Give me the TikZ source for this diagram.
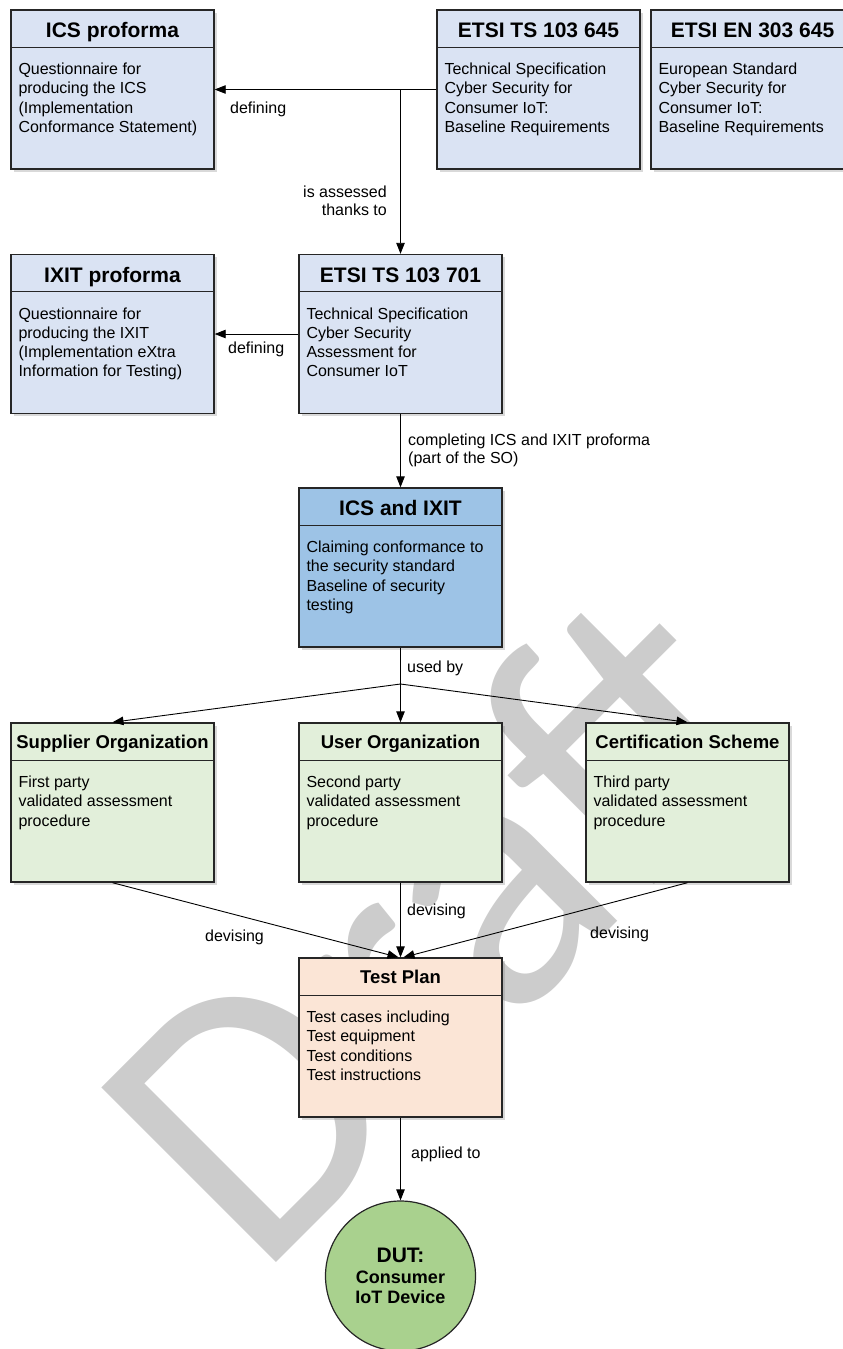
\documentclass[tikz,border=0pt]{standalone}
\usepackage{fontspec}
\setmainfont{Liberation Sans}
\newfontfamily\draftfont{Carlito}
\usetikzlibrary{arrows.meta,shadows}
\definecolor{specblue}{RGB}{218,227,243}
\definecolor{icsblue}{RGB}{157,195,230}
\definecolor{orggreen}{RGB}{226,239,218}
\definecolor{planpeach}{RGB}{251,229,214}
\definecolor{dutgreen}{RGB}{169,209,142}
\definecolor{draftgray}{RGB}{204,204,204}
\definecolor{edgegray}{RGB}{38,38,38}
\newcommand{\fstrut}{\rule{0pt}{13pt}}
\tikzset{
  box/.style={draw=edgegray, line width=1.4pt, minimum width=203pt, minimum height=159pt, inner sep=0pt,
    drop shadow={shadow xshift=2.5pt, shadow yshift=-2.5pt, opacity=0.3}},
  sep/.style={draw=edgegray, line width=1.2pt},
  bigtitle/.style={anchor=base, inner sep=0pt, font=\bfseries\fontsize{21}{24}\selectfont},
  smalltitle/.style={anchor=base, inner sep=0pt, font=\bfseries\fontsize{18.5}{22}\selectfont},
  body/.style={anchor=north west, inner sep=0pt, align=left, font=\fontsize{16}{19.3}\selectfont},
  lbl/.style={inner sep=0pt, font=\fontsize{16}{18.5}\selectfont},
  arr/.style={-{Triangle[length=11pt,width=8.5pt]}, line width=0.9pt},
}
\begin{document}
\begin{tikzpicture}[x=1pt,y=1pt]
        \useasboundingbox (0,0) rectangle (843,-1349);
        % watermark
        \node[rotate=45, xscale=0.97, anchor=base west, inner sep=0pt, text=draftgray, font=\draftfont\fontsize{385}{385}\selectfont] (draft) at (258,-1281) {Draft};
        % standards and proformas
        \node[box, fill=specblue] (icsp) at (112.5,-89.5) {};
        \node[box, fill=specblue] (ts645) at (538.5,-89.5) {};
        \node[box, fill=specblue] (en645) at (752.5,-89.5) {};
        \node[box, fill=specblue] (ixitp) at (112.5,-334) {};
        \node[box, fill=specblue] (ts701) at (400.5,-334) {};
        \node[box, fill=icsblue] (icsixit) at (400.5,-567.5) {};
        % organizations
        \node[box, fill=orggreen] (supplier) at (112.5,-802.5) {};
        \node[box, fill=orggreen] (user) at (400.5,-802.5) {};
        \node[box, fill=orggreen] (certif) at (687.5,-802.5) {};
        \node[box, fill=planpeach] (testplan) at (400.5,-1037.5) {};
        \node[circle, draw=edgegray, line width=1.2pt, fill=dutgreen, minimum size=150pt, inner sep=0pt, align=center,
              font=\bfseries\fontsize{18}{20.5}\selectfont] (dut) at (400.5,-1276) {{\fontsize{21}{23}\selectfont DUT:}\\Consumer\\IoT Device};
        % separators
        \draw[sep] ([yshift=-38pt]icsp.north west) -- ([yshift=-38pt]icsp.north east);
        \draw[sep] ([yshift=-38pt]ts645.north west) -- ([yshift=-38pt]ts645.north east);
        \draw[sep] ([yshift=-38pt]en645.north west) -- ([yshift=-38pt]en645.north east);
        \draw[sep] ([yshift=-38pt]ixitp.north west) -- ([yshift=-38pt]ixitp.north east);
        \draw[sep] ([yshift=-38pt]ts701.north west) -- ([yshift=-38pt]ts701.north east);
        \draw[sep] ([yshift=-38pt]icsixit.north west) -- ([yshift=-38pt]icsixit.north east);
        \draw[sep] ([yshift=-38pt]supplier.north west) -- ([yshift=-38pt]supplier.north east);
        \draw[sep] ([yshift=-38pt]user.north west) -- ([yshift=-38pt]user.north east);
        \draw[sep] ([yshift=-38pt]certif.north west) -- ([yshift=-38pt]certif.north east);
        \draw[sep] ([yshift=-38pt]testplan.north west) -- ([yshift=-38pt]testplan.north east);
        % titles
        \node[bigtitle] (icsp-t) at ([yshift=-28.5pt]icsp.north) {ICS proforma};
        \node[bigtitle] (ts645-t) at ([yshift=-28.5pt]ts645.north) {ETSI TS 103 645};
        \node[bigtitle] (en645-t) at ([yshift=-28.5pt]en645.north) {ETSI EN 303 645};
        \node[bigtitle] (ixitp-t) at ([yshift=-28.5pt]ixitp.north) {IXIT proforma};
        \node[bigtitle] (ts701-t) at ([yshift=-28.5pt]ts701.north) {ETSI TS 103 701};
        \node[bigtitle] (icsixit-t) at ([yshift=-28.5pt]icsixit.north) {ICS and IXIT};
        \node[smalltitle] (supplier-t) at ([yshift=-26.5pt]supplier.north) {Supplier Organization};
        \node[smalltitle] (user-t) at ([yshift=-26.5pt]user.north) {User Organization};
        \node[smalltitle] (certif-t) at ([yshift=-26.5pt]certif.north) {Certification Scheme};
        \node[smalltitle] (testplan-t) at ([yshift=-26.5pt]testplan.north) {Test Plan};
        % texts
        \node[body] (icsp-b) at ([xshift=8pt,yshift=-52pt]icsp.north west) {\fstrut Questionnaire for\\producing the ICS\\(Implementation\\Conformance Statement)};
        \node[body] (ts645-b) at ([xshift=8pt,yshift=-52pt]ts645.north west) {\fstrut Technical Specification\\Cyber Security for\\Consumer IoT:\\Baseline Requirements};
        \node[body] (en645-b) at ([xshift=8pt,yshift=-52pt]en645.north west) {\fstrut European Standard\\Cyber Security for\\Consumer IoT:\\Baseline Requirements};
        \node[body] (ixitp-b) at ([xshift=8pt,yshift=-52pt]ixitp.north west) {\fstrut Questionnaire for\\producing the IXIT\\(Implementation eXtra\\Information for Testing)};
        \node[body] (ts701-b) at ([xshift=8pt,yshift=-52pt]ts701.north west) {\fstrut Technical Specification\\Cyber Security\\Assessment for\\Consumer IoT};
        \node[body] (icsixit-b) at ([xshift=8pt,yshift=-52pt]icsixit.north west) {\fstrut Claiming conformance to\\the security standard\\Baseline of security\\testing};
        \node[body] (supplier-b) at ([xshift=8pt,yshift=-52pt]supplier.north west) {\fstrut First party\\validated assessment\\procedure};
        \node[body] (user-b) at ([xshift=8pt,yshift=-52pt]user.north west) {\fstrut Second party\\validated assessment\\procedure};
        \node[body] (certif-b) at ([xshift=8pt,yshift=-52pt]certif.north west) {\fstrut Third party\\validated assessment\\procedure};
        \node[body] (testplan-b) at ([xshift=8pt,yshift=-52pt]testplan.north west) {\fstrut Test cases including\\Test equipment\\Test conditions\\Test instructions};
        % connectors
        \coordinate (split) at (400.5,-684);
        \draw[arr] (ts645.west) -- (icsp.east);
        \draw[arr] (ts701.north |- ts645.west) -- (ts701.north);
        \draw[arr] (ts701.west) -- (ixitp.east);
        \draw[arr] (ts701.south) -- (icsixit.north);
        \draw[line width=0.9pt] (icsixit.south) -- (split);
        \draw[arr] (split) -- (supplier.north);
        \draw[arr] (split) -- (user.north);
        \draw[arr] (split) -- (certif.north);
        \draw[arr] (supplier.south) -- ([xshift=-2pt]testplan.north);
        \draw[arr] (user.south) -- (testplan.north);
        \draw[arr] (certif.south) -- ([xshift=3pt]testplan.north);
        \draw[arr] (testplan.south) -- (dut.north);
        % labels
        \node[lbl, anchor=base west] (def-a) at (230,-113) {defining};
        \node[lbl, anchor=north east, align=right] (assessed) at (387,-184) {\fstrut is assessed\\thanks to};
        \node[lbl, anchor=base west] (def-b) at (228,-353) {defining};
        \node[lbl, anchor=north west, align=left] (completing) at (408,-432) {\fstrut completing ICS and IXIT proforma\\(part of the SO)};
        \node[lbl, anchor=base west] (usedby) at (407,-672) {used by};
        \node[lbl, anchor=base west] (dev-a) at (205,-941) {devising};
        \node[lbl, anchor=base west] (dev-b) at (407,-915) {devising};
        \node[lbl, anchor=base west] (dev-c) at (590,-938) {devising};
        \node[lbl, anchor=base west] (applied) at (411,-1158) {applied to};
\end{tikzpicture}
\end{document}
